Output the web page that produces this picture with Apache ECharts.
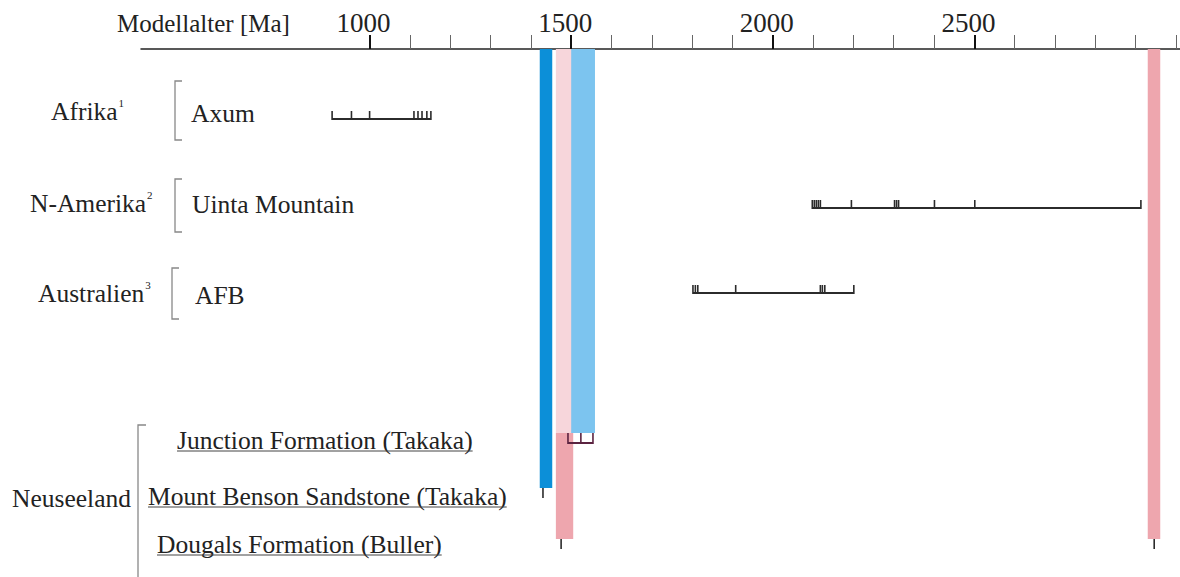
<!DOCTYPE html>
<html><head><meta charset="utf-8">
<script src="https://cdn.jsdelivr.net/npm/echarts@6/dist/echarts.min.js"></script>
<style>html,body{margin:0;padding:0;background:#fff}#c{width:1180px;height:577px}</style>
</head><body><div id="c"></div>
<script>
// ---------- DATA ----------
const axisTitle = 'Modellalter [Ma]';
const majorTicks = [1000, 1500, 2000, 2500];
const minorTicks = [1100, 1200, 1300, 1400, 1600, 1700, 1800, 1900, 2100, 2200, 2300, 2400, 2600, 2700, 2800, 2900, 3000];
const regions = ['Afrika', 'N-Amerika', 'Australien', 'Neuseeland'];
const regionNotes = ['1', '2', '3', ''];
const samples = ['Axum', 'Uinta Mountain', 'AFB', 'Junction Formation (Takaka)', 'Mount Benson Sandstone (Takaka)', 'Dougals Formation (Buller)'];
const sampleRegion = [0, 1, 2, 3, 3, 3];
const agesAxum = [907, 955, 1000, 1110, 1120, 1130, 1142, 1152];
const agesUinta = [2098, 2103, 2108, 2113, 2118, 2195, 2302, 2307, 2312, 2401, 2501, 2913];
const agesAFB = [1802, 1808, 1814, 1908, 2118, 2123, 2129, 2201];
const agesJunction = [1492, 1524, 1554];
const agesMountBenson = [1430];
const agesDougals = [1475, 2946];
const sampleAges = [agesAxum, agesUinta, agesAFB, agesJunction, agesMountBenson, agesDougals];
const joined = [true, true, true, true, false, false];
// highlighted model-age bands (New Zealand samples)
const bandSample = [4, 5, 3, 5];
const bandFrom = [1422, 1462, 1500, 2930];
const bandTo = [1453, 1505, 1559, 2961];

// ---------- LAYOUT / STYLE ----------
const FAMILY = "'Liberation Serif', 'DejaVu Serif', serif";
const rowPos = [64, 155, 246, 391, 447, 495];      // hidden y-axis units (row centres)
const lineDy = [6, 4, -2, 3, 1, 4];                // range line offset from label centre (px)
const labelX = [191, 192, 195, 177, 148, 157];
const tickH = [8, 8, 8, 10, 9, 9];
const sampleColor = ['#2b2b2b', '#2b2b2b', '#2b2b2b', '#5b2340', '#2b2b2b', '#2b2b2b'];
const bandColor = ['#0c8fd8', '#eea6ae', '#7cc4ef', '#eea6ae'];
const bandPaleColor = [null, '#f7d6db', null, null];
const bandPaleUntil = [null, 3, null, null];
const regionX = [51, 30, 38, 12];
const regionRow = [0, 1, 2, 4];
const bracketX = [175, 175, 172];
const bracketTop = [81, 179, 268];
const bracketBot = [140, 232, 319];
const FS = 25.5;

const mctx = document.createElement('canvas').getContext('2d');
function textW(t, size) { mctx.font = size + 'px ' + FAMILY; return mctx.measureText(t).width; }

const chart = echarts.init(document.getElementById('c'), null, { renderer: 'svg' });

function lineY(api, i) { return api.coord([1000, rowPos[i]])[1] + lineDy[i]; }

const option = {
  animation: false,
  backgroundColor: '#fff',
  title: { text: axisTitle, left: 117, top: 11, padding: 0,
    textStyle: { fontFamily: FAMILY, fontSize: 25, fontWeight: 'normal', color: '#222' } },
  grid: { left: 141, right: 0, top: 49, bottom: 0 },
  xAxis: [{
    type: 'value', position: 'top', min: 433, max: 3010,
    axisLine: { show: true, lineStyle: { color: '#222', width: 1.5 } },
    axisTick: { show: true, inside: false, length: 14, customValues: minorTicks, lineStyle: { color: '#666', width: 1 } },
    axisLabel: { show: true, margin: 13, customValues: majorTicks, formatter: v => String(v),
      padding: [0, 12, 0, 0], fontFamily: FAMILY, fontSize: 27, color: '#222' },
    splitLine: { show: false }
  }, {
    type: 'value', position: 'top', min: 433, max: 3010,
    axisLine: { show: false },
    axisTick: { show: true, inside: false, length: 14, customValues: majorTicks, lineStyle: { color: '#111', width: 2 } },
    axisLabel: { show: false },
    splitLine: { show: false }
  }],
  yAxis: { type: 'value', inverse: true, min: 0, max: 528, show: false },
  series: [
    { // bands
      type: 'custom', xAxisIndex: 0, clip: false, z: 1,
      data: bandFrom.map((f, k) => [f, bandTo[k], k]),
      renderItem(params, api) {
        const k = api.value(2);
        const x0 = api.coord([api.value(0), 0])[0];
        const x1 = api.coord([api.value(1), 0])[0];
        const yTop = api.coord([1000, 0])[1];
        const s = bandSample[k];
        const yBot = lineY(api, s) - tickH[s];
        const children = [];
        if (bandPaleUntil[k] !== null) {
          const r = bandPaleUntil[k];
          const ySplit = lineY(api, r) - tickH[r];
          children.push({ type: 'rect', shape: { x: x0, y: yTop, width: x1 - x0, height: ySplit - yTop }, style: { fill: bandPaleColor[k] } });
          children.push({ type: 'rect', shape: { x: x0, y: ySplit, width: x1 - x0, height: yBot - ySplit }, style: { fill: bandColor[k] } });
        } else {
          children.push({ type: 'rect', shape: { x: x0, y: yTop, width: x1 - x0, height: yBot - yTop }, style: { fill: bandColor[k] } });
        }
        return { type: 'group', children };
      }
    },
    { // ranges and individual model ages
      type: 'custom', xAxisIndex: 0, clip: false, z: 3,
      data: samples.map((s, i) => [i]),
      renderItem(params, api) {
        const i = api.value(0);
        const ages = sampleAges[i];
        const y = lineY(api, i);
        const col = sampleColor[i];
        const children = [];
        if (joined[i] && ages.length > 1) {
          const xa = api.coord([Math.min(...ages), 0])[0];
          const xb = api.coord([Math.max(...ages), 0])[0];
          children.push({ type: 'line', shape: { x1: xa, y1: y, x2: xb, y2: y }, style: { stroke: col, lineWidth: 2 } });
        }
        ages.forEach(a => {
          const x = api.coord([a, 0])[0];
          children.push({ type: 'line', shape: { x1: x, y1: y + 1, x2: x, y2: y - tickH[i] }, style: { stroke: col, lineWidth: 1.6 } });
        });
        return { type: 'group', children };
      }
    },
    { // labels, brackets
      type: 'custom', xAxisIndex: 0, clip: false, z: 4,
      data: samples.map((s, i) => [i]),
      renderItem(params, api) {
        const i = api.value(0);
        const yc = api.coord([1000, rowPos[i]])[1];
        const children = [];
        const nz = sampleRegion[i] === 3;
        children.push({ type: 'text', style: { x: labelX[i], y: yc, text: samples[i], fill: '#222',
          fontFamily: FAMILY, fontSize: FS, align: 'left', verticalAlign: 'middle' } });
        if (nz) {
          const w = textW(samples[i], FS);
          children.push({ type: 'line', shape: { x1: labelX[i], y1: yc + 11, x2: labelX[i] + w, y2: yc + 11 }, style: { stroke: '#444', lineWidth: 1 } });
        }
        const r = regionRow.indexOf(i);
        if (r >= 0) {
          const note = regionNotes[r];
          const ry = r === 3 ? yc + 2 : yc - 2 + (r === 1 ? 1 : 0);
          children.push({ type: 'text', style: { x: regionX[r], y: ry, text: regions[r], fill: '#222',
            fontFamily: FAMILY, fontSize: FS, align: 'left', verticalAlign: 'middle' } });
          if (note) {
            const w = textW(regions[r], FS);
            children.push({ type: 'text', style: { x: regionX[r] + w + 1, y: ry - 8, text: note, fill: '#222',
              fontFamily: FAMILY, fontSize: 11, align: 'left', verticalAlign: 'middle' } });
          }
          if (r < 3) {
            const bx = bracketX[r], t = bracketTop[r], b = bracketBot[r];
            children.push({ type: 'polyline', shape: { points: [[bx + 7, t], [bx, t], [bx, b], [bx + 7, b]] },
              style: { stroke: '#888', lineWidth: 1.3, fill: null } });
          }
        }
        if (i === 3) {
          const yTop = api.coord([1000, rowPos[3]])[1] - 15;
          children.push({ type: 'polyline', shape: { points: [[146, yTop], [138, yTop], [138, 580]] },
            style: { stroke: '#888', lineWidth: 1.3, fill: null } });
        }
        return { type: 'group', children };
      }
    }
  ]
};
chart.setOption(option);
</script>
</body></html>
